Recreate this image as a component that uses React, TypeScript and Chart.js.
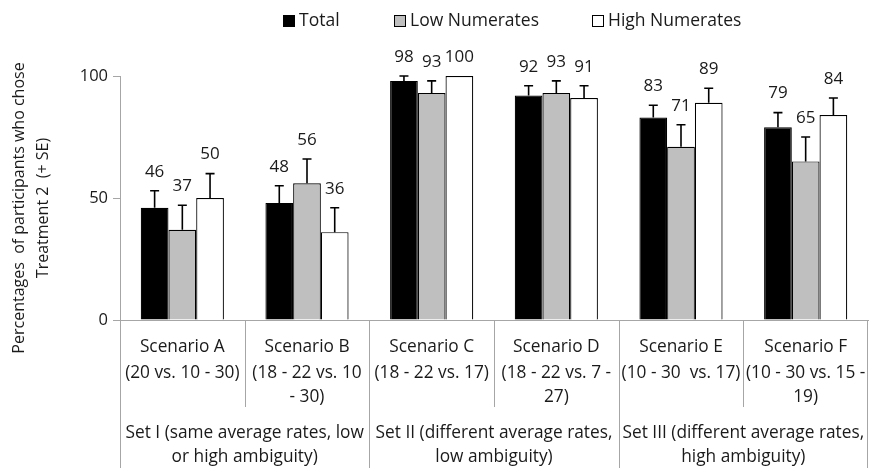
import React, { useEffect, useRef } from "react";
import { Chart, registerables } from "chart.js";

Chart.register(...registerables);

// ---- data ----
const scenarioLines: string[][] = [
  ["Scenario A", "(20 vs. 10 - 30)"],
  ["Scenario B", "(18 - 22 vs. 10", "- 30)"],
  ["Scenario C", "(18 - 22 vs. 17)"],
  ["Scenario D", "(18 - 22 vs. 7 -", "27)"],
  ["Scenario E", "(10 - 30  vs. 17)"],
  ["Scenario F", "(10 - 30 vs. 15 -", "19)"],
];
const categories = ["Scenario A", "Scenario B", "Scenario C", "Scenario D", "Scenario E", "Scenario F"];
const setLabels: string[][] = [
  ["Set I (same average rates, low", "or high ambiguity)"],
  ["Set II (different average rates,", "low ambiguity)"],
  ["Set III (different average rates,", "high ambiguity)"],
];
const setSizes = [2, 2, 2];
const seriesNames = ["Total", "Low Numerates", "High Numerates"];
const total = [46, 48, 98, 92, 83, 79];
const low = [37, 56, 93, 93, 71, 65];
const high = [50, 36, 100, 91, 89, 84];
const seTotal = [7, 7, 2, 4, 5, 6];
const seLow = [10, 10, 5, 5, 9, 10];
const seHigh = [10, 10, 0, 5, 6, 7];
const yTitleLines = ["Percentages  of participants who chose", "Treatment 2  (+ SE)"];
const yMin = 0;
const yMax = 100;
const yStep = 50;

const seriesColors = ["#000000", "#bfbfbf", "#ffffff"];
const FONT = "'Open Sans', sans-serif";
const TITLE_FONT = "'Open Sans', sans-serif";
const TEXT = "#1a1a1a";
const AXIS = "#a6a6a6";

const errors = [seTotal, seLow, seHigh];

const overlayPlugin = {
  id: "overlay",
  afterDatasetsDraw(chart: any) {
    const ctx = chart.ctx as CanvasRenderingContext2D;
    const y = chart.scales.y;
    ctx.save();
    chart.data.datasets.forEach((ds: any, di: number) => {
      const meta = chart.getDatasetMeta(di);
      meta.data.forEach((bar: any, i: number) => {
        const v = ds.data[i];
        const se = errors[di][i];
        const top = y.getPixelForValue(v + se);
        if (se > 0) {
          ctx.strokeStyle = "#000";
          ctx.lineWidth = 1.6;
          ctx.beginPath();
          ctx.moveTo(bar.x, bar.y);
          ctx.lineTo(bar.x, top);
          ctx.moveTo(bar.x - 4.5, top);
          ctx.lineTo(bar.x + 4.5, top);
          ctx.stroke();
        }
        ctx.fillStyle = TEXT;
        ctx.font = `17px ${FONT}`;
        ctx.textAlign = "center";
        ctx.textBaseline = "middle";
        ctx.fillText(String(v), bar.x, top - 19);
      });
    });
    ctx.restore();
  },
  afterDraw(chart: any) {
    const ctx = chart.ctx as CanvasRenderingContext2D;
    const { left, right, bottom } = chart.chartArea;
    const x = chart.scales.x;
    const H = chart.height;
    const n = categories.length;
    const w = (right - left) / n;
    ctx.save();

    // separators
    const groupStarts = new Set<number>();
    let acc = 0;
    groupStarts.add(0);
    setSizes.forEach((s) => {
      acc += s;
      groupStarts.add(acc);
    });
    ctx.strokeStyle = AXIS;
    ctx.lineWidth = 1;
    for (let i = 0; i <= n; i++) {
      let px = Math.round(left + i * w) + 0.5;
      if (i === n) px = Math.round(right) - 0.5;
      const end = groupStarts.has(i) ? H : bottom + 87;
      ctx.beginPath();
      ctx.moveTo(px, bottom);
      ctx.lineTo(px, end);
      ctx.stroke();
    }

    // scenario labels
    ctx.fillStyle = TEXT;
    ctx.font = `17.3px ${FONT}`;
    ctx.textAlign = "center";
    ctx.textBaseline = "middle";
    const rowY = [bottom + 27, bottom + 53, bottom + 77];
    scenarioLines.forEach((lines, i) => {
      const cx = x.getPixelForValue(i);
      lines.forEach((t, j) => ctx.fillText(t, cx, rowY[j]));
    });

    // set labels
    let start = 0;
    setLabels.forEach((lines, g) => {
      const s = setSizes[g];
      const cx = left + (start + s / 2) * w;
      lines.forEach((t, j) => ctx.fillText(t, cx, bottom + 113 + j * 24));
      start += s;
    });

    // legend
    const legendBoxX = [283, 394, 592];
    seriesNames.forEach((name, i) => {
      const bx = legendBoxX[i];
      ctx.fillStyle = seriesColors[i];
      ctx.fillRect(bx, 15, 12, 12);
      ctx.strokeStyle = "#000";
      ctx.lineWidth = 1;
      ctx.strokeRect(bx + 0.5, 15.5, 11, 11);
      ctx.fillStyle = TEXT;
      ctx.font = `17.5px ${FONT}`;
      ctx.textAlign = "left";
      ctx.textBaseline = "middle";
      ctx.fillText(name, bx + 16, 21);
    });

    // y title
    ctx.save();
    ctx.translate(0, 208);
    ctx.rotate(-Math.PI / 2);
    ctx.fillStyle = TEXT;
    ctx.font = `16px ${TITLE_FONT}`;
    ctx.textAlign = "center";
    ctx.textBaseline = "middle";
    ctx.fillText(yTitleLines[0], 0, 19);
    ctx.fillText(yTitleLines[1], 0, 43);
    ctx.restore();

    ctx.restore();
  },
};

export default function App() {
  const ref = useRef<HTMLCanvasElement | null>(null);
  useEffect(() => {
    if (!ref.current) return;
    const chart = new Chart(ref.current, {
      type: "bar",
      data: {
        labels: categories,
        datasets: [
          { label: seriesNames[0], data: total, backgroundColor: seriesColors[0], borderColor: "#000", borderWidth: 1.2 },
          { label: seriesNames[1], data: low, backgroundColor: seriesColors[1], borderColor: "#000", borderWidth: 1.2 },
          { label: seriesNames[2], data: high, backgroundColor: seriesColors[2], borderColor: "#000", borderWidth: 1.2 },
        ],
      },
      options: {
        responsive: false,
        animation: false,
        events: [],
        layout: { padding: { top: 76, bottom: 148, left: 0, right: 1 } },
        datasets: { bar: { categoryPercentage: 0.667, barPercentage: 1.0 } },
        plugins: { legend: { display: false }, tooltip: { enabled: false }, title: { display: false } },
        scales: {
          x: {
            ticks: { display: false },
            grid: { display: false },
            border: { display: true, color: AXIS, width: 1 },
            afterFit: (s: any) => { s.height = 0; },
          },
          y: {
            min: yMin,
            max: yMax,
            ticks: { stepSize: yStep, color: TEXT, font: { family: FONT, size: 16.5 }, padding: 5 },
            grid: { drawOnChartArea: false, drawTicks: true, tickLength: 7, color: AXIS },
            border: { display: true, color: AXIS, width: 1 },
            afterFit: (s: any) => { s.width = 120; },
          },
        },
      },
      plugins: [overlayPlugin],
    } as any);
    return () => chart.destroy();
  }, []);
  return (
    <div style={{ position: "fixed", left: 0, top: 0, width: 869, height: 468, background: "#fff" }}>
      <canvas ref={ref} width={869} height={468} style={{ width: 869, height: 468, display: "block" }} />
    </div>
  );
}
